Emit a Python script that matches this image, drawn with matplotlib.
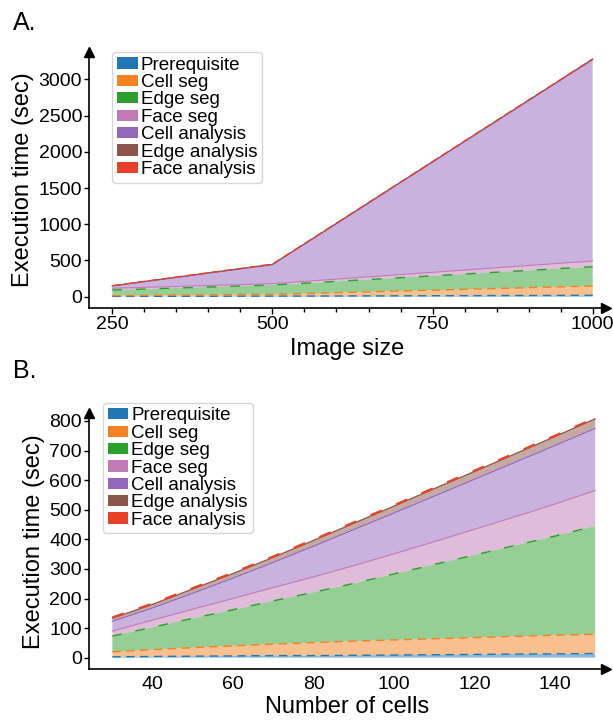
import matplotlib.pyplot as plt
from matplotlib.patches import Patch
from matplotlib.ticker import MultipleLocator
import numpy as np

plt.rcParams['font.family'] = ['Liberation Sans', 'DejaVu Sans']

labels = ['Prerequisite', 'Cell seg', 'Edge seg', 'Face seg',
          'Cell analysis', 'Edge analysis', 'Face analysis']
colors = ['#1f77b4', '#f58220', '#2ca02c', '#c17ab6',
          '#9467bd', '#8c564b', '#e8412a']

# A. execution time vs image size
image_size = [250, 500, 1000]
prereq_a = [4, 8, 19]
cellseg_a = [10, 25, 129]
edgeseg_a = [78, 128, 266]
faceseg_a = [24, 19, 79]
cellana_a = [32, 262, 2780]
edgeana_a = [3, 5, 6]
faceana_a = [1, 2, 2]

# B. execution time vs number of cells
n_cells = [30, 40, 50, 60, 70, 80, 90, 100, 110, 120, 130, 140, 150]
prereq_b = [3, 4, 5, 6, 7, 7, 8, 9, 10, 11, 12, 13, 14]
cellseg_b = [17, 23, 29, 34, 39, 44, 48, 51, 54, 57, 60, 63, 65]
edgeseg_b = [53, 76, 99, 122, 146, 170, 195, 223, 251, 279, 307, 335, 366]
faceseg_b = [17, 24, 31, 38, 45, 52, 60, 68, 77, 87, 97, 108, 120]
cellana_b = [33, 41, 54, 69, 85, 104, 122, 138, 154, 169, 184, 198, 210]
edgeana_b = [10, 12, 14, 15, 17, 19, 21, 23, 25, 26, 28, 30, 32]
faceana_b = [3, 3, 3, 3, 3, 3, 3, 3, 3, 3, 3, 3, 3]

W, H = 613, 721
fig = plt.figure(figsize=(W / 100, H / 100), dpi=100)
axA = fig.add_axes([89 / W, 1 - 308 / H, 517 / W, 256 / H])
axB = fig.add_axes([89 / W, 1 - 669.3 / H, 517 / W, 256.3 / H])


def draw_panel(ax, x, layers, top_lw, top_dash):
    ax.stackplot(x, layers, colors=colors, alpha=0.5, linewidth=0)
    tops = np.cumsum(layers, axis=0)
    styles = [(0, (6, 4)), (0, (6, 4)), (0, (7, 10)), '-', '-', '-', top_dash]
    widths = [1, 1, 1, 0.8, 0.8, 0.8, top_lw]
    for i, top in enumerate(tops):
        ax.plot(x, top, color=colors[i], lw=widths[i], ls=styles[i])

    for s in ['top', 'right']:
        ax.spines[s].set_visible(False)
    for s in ['left', 'bottom']:
        ax.spines[s].set_linewidth(1.2)
    ax.plot(1, 0, '>k', ms=7, transform=ax.transAxes, clip_on=False)
    ax.plot(0, 1, '^k', ms=7, transform=ax.transAxes, clip_on=False)
    ax.tick_params(axis='both', labelsize=14, direction='out', width=1)
    ax.tick_params(axis='y', length=3.5, pad=1.5)
    ax.set_ylabel('Execution time (sec)', fontsize=17, labelpad=3)

    handles = [Patch(facecolor=c, edgecolor='none') for c in colors]
    return handles


hA = draw_panel(axA, image_size,
                [prereq_a, cellseg_a, edgeseg_a, faceseg_a, cellana_a, edgeana_a, faceana_a],
                1.0, (0, (6, 3)))
axA.set_xlim(213.6, 1020.8)
axA.set_ylim(-156, 3377)
axA.set_xticks([250, 500, 750, 1000])
axA.xaxis.set_minor_locator(MultipleLocator(50))
axA.set_yticks(np.arange(0, 3001, 500))
axA.tick_params(axis='x', which='major', length=4, pad=2)
axA.tick_params(axis='x', which='minor', length=3, width=1)
axA.set_xlabel('Image size', fontsize=17, labelpad=3)
axA.legend(hA, labels, loc='upper left', bbox_to_anchor=(0.045, 1.0),
           borderaxespad=0, fontsize=13.5, labelspacing=0.02, handlelength=1.1,
           handleheight=0.55, handletextpad=0.17, borderpad=0.25)

hB = draw_panel(axB, n_cells,
                [prereq_b, cellseg_b, edgeseg_b, faceseg_b, cellana_b, edgeana_b, faceana_b],
                1.6, (0, (5.5, 7)))
axB.set_xlim(24.2, 152.7)
axB.set_ylim(-39.3, 827)
axB.set_xticks([40, 60, 80, 100, 120, 140])
axB.set_yticks(np.arange(0, 801, 100))
axB.tick_params(axis='x', length=0, pad=5)
axB.set_xlabel('Number of cells', fontsize=17, labelpad=2)
axB.legend(hB, labels, loc='upper left', bbox_to_anchor=(0.027, 1.04),
           borderaxespad=0, fontsize=13.5, labelspacing=0.02, handlelength=1.1,
           handleheight=0.55, handletextpad=0.17, borderpad=0.25)

fig.text(13 / W, 1 - 30 / H, 'A.', fontsize=18, va='baseline')
fig.text(13 / W, 1 - 378 / H, 'B.', fontsize=18, va='baseline')

fig.savefig('out.png', dpi=100)
